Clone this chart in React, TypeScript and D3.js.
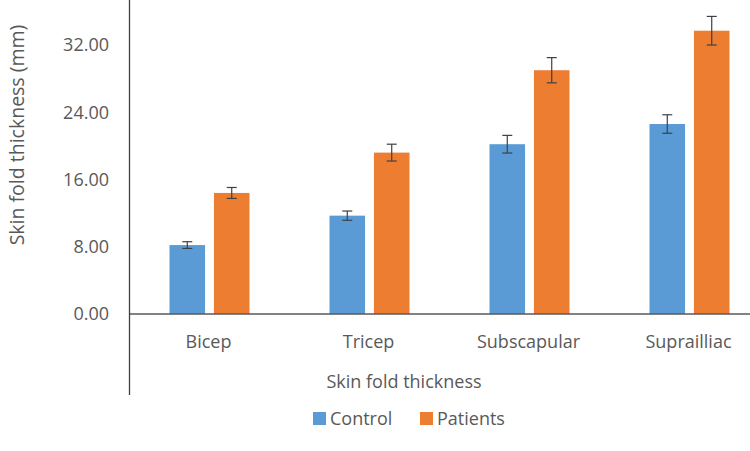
import React, { useRef, useEffect } from "react";
import * as d3 from "d3";

// chart values
const categories = ["Bicep", "Tricep", "Subscapular", "Suprailliac"];
const seriesNames = ["Control", "Patients"];
const controlValues = [8.2, 11.7, 20.2, 22.6];
const patientValues = [14.4, 19.2, 29.0, 33.7];
const controlErrors = [0.4, 0.55, 1.05, 1.1];
const patientErrors = [0.65, 1.0, 1.5, 1.7];
const yTicks = [0, 8, 16, 24, 32];
const colors = ["#5B9BD5", "#ED7D31"];

const FONT = "'Open Sans', sans-serif";
const TEXT = "#595959";

const App = () => {
  const svgRef = useRef<SVGSVGElement>(null);

  useEffect(() => {
    const width = 750;
    const svg = d3.select(svgRef.current);
    svg.selectAll("*").remove();

    const axisX = 129.5;
    const zeroY = 314;

    // plot runs past the right edge of the picture, like the cropped original
    const x0 = d3.scaleBand().domain(categories).range([axisX, axisX + 640]).padding(0);
    const x1 = d3.scaleBand().domain(seriesNames).range([40, 120]).paddingInner(0.2).paddingOuter(0);
    const y = d3.scaleLinear().domain([0, 32]).range([zeroY, 45]);

    const rows = categories.map((c, i) => ({
      cat: c,
      vals: [
        { name: seriesNames[0], v: controlValues[i], e: controlErrors[i], color: colors[0] },
        { name: seriesNames[1], v: patientValues[i], e: patientErrors[i], color: colors[1] },
      ],
    }));

    // bars
    const groups = svg
      .append("g")
      .selectAll("g")
      .data(rows)
      .join("g")
      .attr("transform", (d) => `translate(${x0(d.cat)},0)`);

    groups
      .selectAll("rect")
      .data((d) => d.vals)
      .join("rect")
      .attr("x", (d) => x1(d.name)!)
      .attr("y", (d) => y(d.v))
      .attr("width", x1.bandwidth())
      .attr("height", (d) => y(0) - y(d.v))
      .attr("fill", (d) => d.color);

    // error bars
    const errs = groups
      .selectAll("g.err")
      .data((d) => d.vals)
      .join("g")
      .attr("class", "err")
      .attr("stroke", "#404040")
      .attr("stroke-width", 1.2);
    const cx = (d: any) => x1(d.name)! + x1.bandwidth() / 2;
    errs
      .append("line")
      .attr("x1", cx)
      .attr("x2", cx)
      .attr("y1", (d: any) => y(d.v + d.e))
      .attr("y2", (d: any) => y(d.v - d.e));
    errs
      .append("line")
      .attr("x1", (d: any) => cx(d) - 5)
      .attr("x2", (d: any) => cx(d) + 5)
      .attr("y1", (d: any) => y(d.v + d.e))
      .attr("y2", (d: any) => y(d.v + d.e));
    errs
      .append("line")
      .attr("x1", (d: any) => cx(d) - 5)
      .attr("x2", (d: any) => cx(d) + 5)
      .attr("y1", (d: any) => y(d.v - d.e))
      .attr("y2", (d: any) => y(d.v - d.e));

    // axes lines
    svg
      .append("line")
      .attr("x1", axisX)
      .attr("x2", width)
      .attr("y1", zeroY)
      .attr("y2", zeroY)
      .attr("stroke", "#595959")
      .attr("stroke-width", 1.3);
    svg
      .append("line")
      .attr("x1", axisX)
      .attr("x2", axisX)
      .attr("y1", 0)
      .attr("y2", 395)
      .attr("stroke", "#404040")
      .attr("stroke-width", 1.3);

    // y tick labels
    svg
      .append("g")
      .selectAll("text")
      .data(yTicks)
      .join("text")
      .attr("x", 109)
      .attr("y", (d) => y(d))
      .attr("dy", "0.36em")
      .attr("text-anchor", "end")
      .attr("font-family", FONT)
      .attr("font-size", 18)
      .attr("fill", TEXT)
      .text((d) => d.toFixed(2));

    // category labels
    svg
      .append("g")
      .selectAll("text")
      .data(categories)
      .join("text")
      .attr("x", (d) => x0(d)! + 79)
      .attr("y", 348)
      .attr("text-anchor", "middle")
      .attr("font-family", FONT)
      .attr("font-size", 18)
      .attr("fill", TEXT)
      .text((d) => d);

    // axis titles
    svg
      .append("text")
      .attr("x", 404)
      .attr("y", 388)
      .attr("text-anchor", "middle")
      .attr("font-family", FONT)
      .attr("font-size", 18)
      .attr("fill", TEXT)
      .text("Skin fold thickness");

    svg
      .append("text")
      .attr("transform", "translate(24,135) rotate(-90)")
      .attr("text-anchor", "middle")
      .attr("font-family", FONT)
      .attr("font-size", 19.5)
      .attr("fill", TEXT)
      .text("Skin fold thickness (mm)");

    // legend
    const legendX = [313, 420];
    const legend = svg
      .append("g")
      .selectAll("g")
      .data(seriesNames)
      .join("g")
      .attr("transform", (d, i) => `translate(${legendX[i]},412)`);
    legend
      .append("rect")
      .attr("width", 13)
      .attr("height", 13)
      .attr("fill", (d, i) => colors[i]);
    legend
      .append("text")
      .attr("x", 17)
      .attr("y", 13)
      .attr("font-family", FONT)
      .attr("font-size", 18)
      .attr("fill", TEXT)
      .text((d) => d);
  }, []);

  return (
    <svg
      ref={svgRef}
      width={750}
      height={451}
      style={{ position: "absolute", left: 0, top: 0, background: "#fff" }}
    ></svg>
  );
};

export default App;
